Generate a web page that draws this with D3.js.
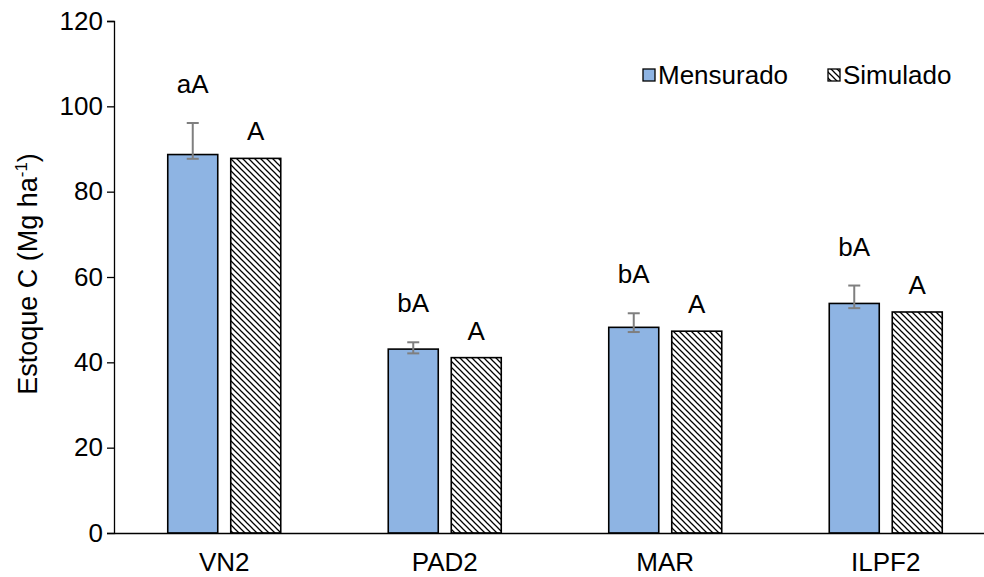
<!DOCTYPE html>
<html>
<head>
<meta charset="utf-8">
<script src="https://cdn.jsdelivr.net/npm/d3@7"></script>
<style>
  html, body { margin: 0; padding: 0; background: #fff; }
  svg { display: block; font-family: "Liberation Sans", Arial, sans-serif; }
</style>
</head>
<body>
<svg id="chart" width="984" height="577"></svg>
<script>
// Carbon stock per system: measured vs simulated
const categories = ["VN2", "PAD2", "MAR", "ILPF2"];
const mensurado = [88.7, 43.1, 48.2, 53.8];
const simulado = [87.8, 41.1, 47.3, 51.8];
const errPlus = [7.4, 1.6, 3.3, 4.2];
const errMinus = [1.0, 1.0, 1.1, 1.1];
const lettersMensurado = ["aA", "bA", "bA", "bA"];
const lettersSimulado = ["A", "A", "A", "A"];
const yTicks = [0, 20, 40, 60, 80, 100, 120];
const seriesNames = ["Mensurado", "Simulado"];

const svg = d3.select("#chart");
const fontSize = 26;
const fontFamily = "Liberation Sans, Arial, sans-serif";

const x = d3.scaleBand().domain(categories).range([114, 996]).padding(0);
const y = d3.scaleLinear().domain([0, 120]).range([533, 21]);

// hatch pattern for simulated bars
const defs = svg.append("defs");
const pat = defs.append("pattern")
  .attr("id", "hatch").attr("patternUnits", "userSpaceOnUse")
  .attr("width", 6).attr("height", 6);
pat.append("rect").attr("width", 6).attr("height", 6).attr("fill", "#fff");
pat.append("path")
  .attr("d", "M-1,-1 L7,7 M-4,2 L1,7 M5,-1 L8,2")
  .attr("stroke", "#000").attr("stroke-width", 1.25);

const barW = 50, gap = 6.5;

// y axis
const yAxis = d3.axisLeft(y).tickValues(yTicks).tickSize(7).tickPadding(4).tickFormat(d3.format("d"));
const gy = svg.append("g").attr("transform", "translate(114,0)").call(yAxis);
gy.select(".domain").attr("stroke", "#000").attr("stroke-width", 1.3);
gy.selectAll(".tick line").attr("stroke", "#000").attr("stroke-width", 1.3);
gy.selectAll(".tick text").attr("font-size", fontSize).attr("fill", "#000")
  .attr("font-family", fontFamily);

// bars
const g = svg.append("g");
categories.forEach((c, i) => {
  const cx = x(c) + x.bandwidth() / 2;
  g.append("rect")
    .attr("x", cx - gap - barW).attr("y", y(mensurado[i]))
    .attr("width", barW).attr("height", y(0) - y(mensurado[i]))
    .attr("fill", "#8EB4E3").attr("stroke", "#000").attr("stroke-width", 1.6);
  g.append("rect")
    .attr("x", cx + gap).attr("y", y(simulado[i]))
    .attr("width", barW).attr("height", y(0) - y(simulado[i]))
    .attr("fill", "url(#hatch)").attr("stroke", "#000").attr("stroke-width", 1.6);

  // error bar on measured
  const ex = cx - gap - barW / 2;
  const top = y(mensurado[i] + errPlus[i]);
  const bot = y(mensurado[i] - errMinus[i]);
  const eb = g.append("g").attr("stroke", "#7f7f7f").attr("stroke-width", 2);
  eb.append("line").attr("x1", ex).attr("x2", ex).attr("y1", top).attr("y2", bot);
  eb.append("line").attr("x1", ex - 6).attr("x2", ex + 6).attr("y1", top).attr("y2", top);
  eb.append("line").attr("x1", ex - 6).attr("x2", ex + 6).attr("y1", bot).attr("y2", bot);

  // significance letters
  g.append("text").attr("x", ex).attr("y", top - 30)
    .attr("text-anchor", "middle").attr("font-size", fontSize).text(lettersMensurado[i]);
  g.append("text").attr("x", cx + gap + barW / 2).attr("y", y(simulado[i]) - 18)
    .attr("text-anchor", "middle").attr("font-size", fontSize).text(lettersSimulado[i]);
});

// x axis
const xAxis = d3.axisBottom(x).tickSize(0).tickPadding(20);
const gx = svg.append("g").attr("transform", "translate(0,533)").call(xAxis);
gx.select(".domain").attr("stroke", "#000").attr("stroke-width", 1.3);
gx.selectAll(".tick text").attr("font-size", fontSize).attr("fill", "#000")
  .attr("font-family", fontFamily);

// y axis title
svg.append("text")
  .attr("transform", "translate(37,274) rotate(-90)")
  .attr("text-anchor", "middle").attr("font-size", 27)
  .call(t => {
    t.append("tspan").text("Estoque C (Mg ha");
    t.append("tspan").attr("dy", -10).attr("font-size", 17).text("-1");
    t.append("tspan").attr("dy", 10).text(")");
  });

// legend
const legend = [
  { name: seriesNames[0], fill: "#8EB4E3", x: 643 },
  { name: seriesNames[1], fill: "url(#hatch)", x: 828 }
];
legend.forEach(l => {
  svg.append("rect").attr("x", l.x).attr("y", 69).attr("width", 12).attr("height", 12)
    .attr("fill", l.fill).attr("stroke", "#000").attr("stroke-width", 1.3);
  svg.append("text").attr("x", l.x + 15).attr("y", 84)
    .attr("font-size", fontSize).text(l.name);
});
</script>
</body>
</html>
